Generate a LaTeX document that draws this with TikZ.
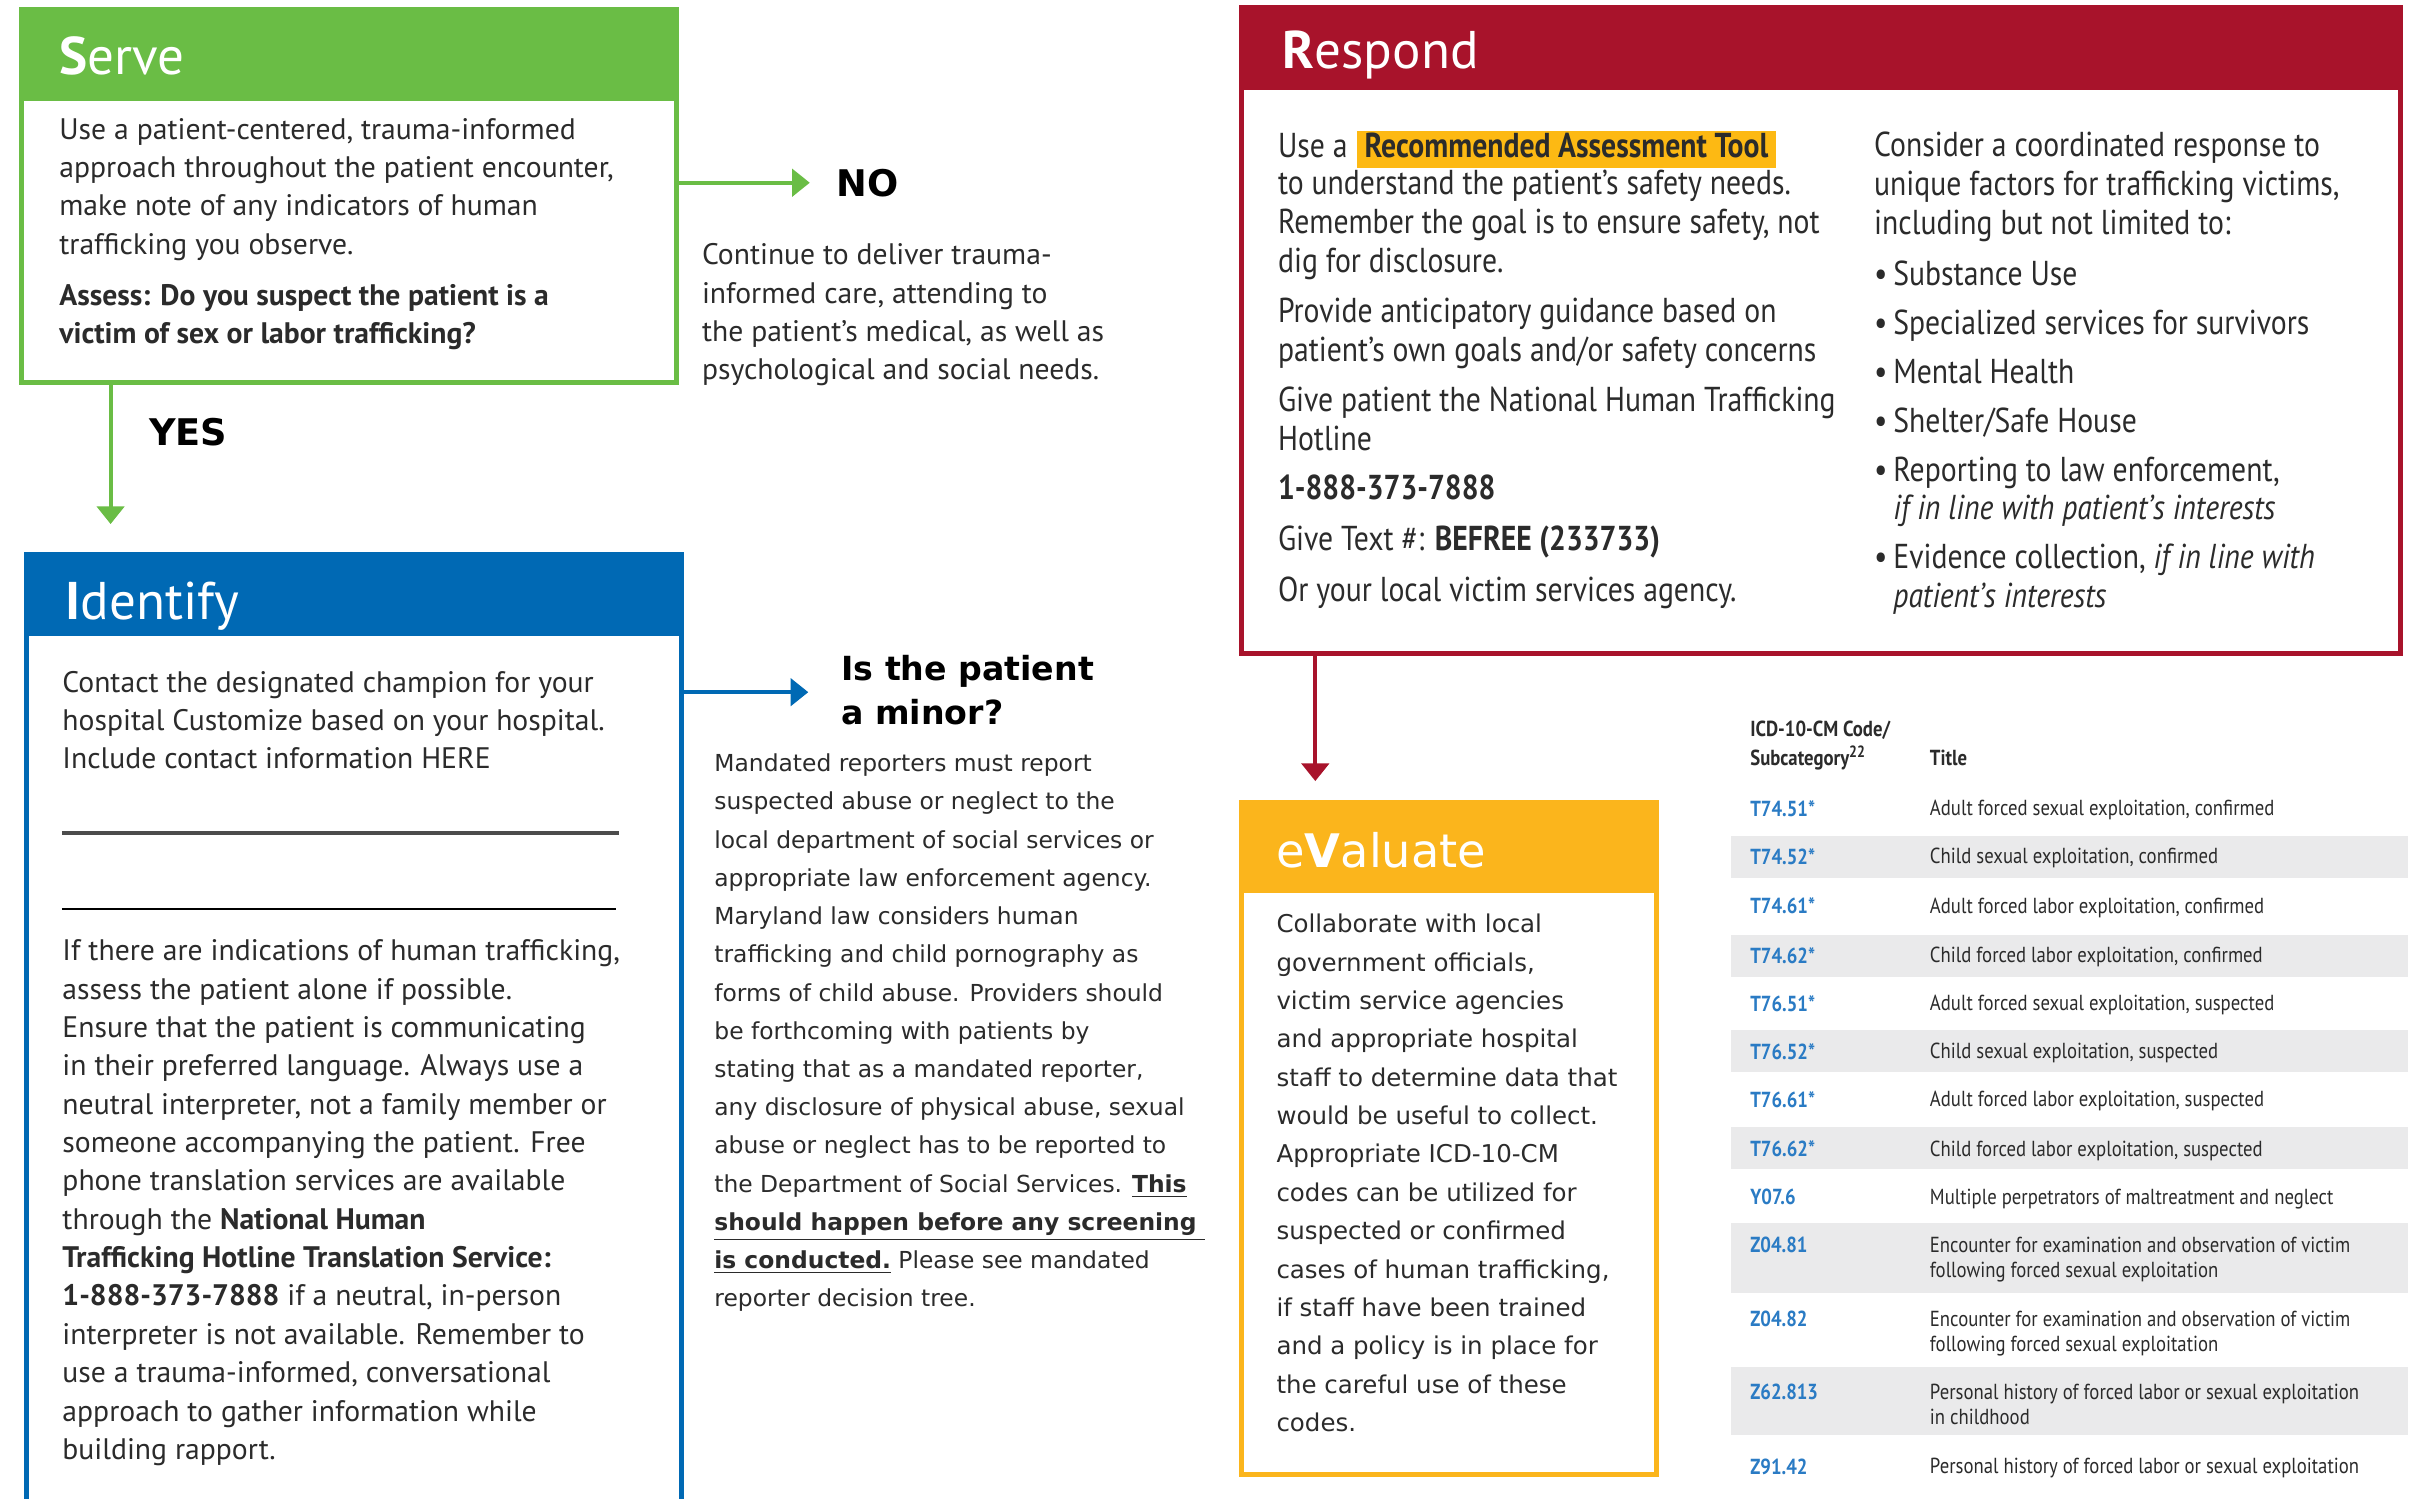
\documentclass[tikz,border=0pt]{standalone}
\usepackage{fontspec}
\setmainfont{PT Sans}
\newfontfamily\verdfont{DejaVu Sans}
\newfontfamily\narrowfont[FakeStretch=0.86]{PT Sans}
\usepackage{xcolor}
\usetikzlibrary{positioning, fit, calc, arrows.meta}

\definecolor{servegreen}{HTML}{6ABD45}
\definecolor{identblue}{HTML}{0069B4}
\definecolor{respred}{HTML}{A8132B}
\definecolor{evalorange}{HTML}{FBB51C}
\definecolor{toolyellow}{HTML}{FDB913}
\definecolor{codeblue}{HTML}{2A7BC4}
\definecolor{rowgray}{HTML}{EAEAEB}
\definecolor{ink}{HTML}{2B2B2B}

\begin{document}
\begin{tikzpicture}[x=0.02cm, y=-0.02cm,
    box/.style={draw, line width=1.8pt, inner sep=0pt},
    band/.style={inner sep=0pt, outer sep=0pt},
    title/.style={anchor=base west, inner sep=0pt, text=white, font=\fontsize{19.5}{22}\selectfont},
    txt/.style={anchor=north west, inner sep=0pt, align=left, text=ink, font=\fontsize{10.9}{14.1}\selectfont},
    wide/.style={anchor=north west, inner sep=0pt, align=left, text=ink, font=\verdfont\fontsize{8.6}{14.05}\selectfont},
    resp/.style={anchor=north west, inner sep=0pt, align=left, text=ink, font=\narrowfont\fontsize{12.7}{14.3}\selectfont},
    answer/.style={anchor=west, inner sep=0pt, text=black, font=\verdfont\bfseries\fontsize{13.5}{16}\selectfont},
    flow/.style={line width=1.5pt, -{Triangle[length=6.5pt, width=10pt]}},
    code/.style={anchor=north west, inner sep=0pt, text=codeblue, font=\narrowfont\bfseries\fontsize{8}{9.1}\selectfont},
    codename/.style={anchor=north west, inner sep=0pt, align=left, text=ink, font=\narrowfont\fontsize{8}{9.1}\selectfont},
  ]
  \clip (0,0) rectangle (1568,968);
  \fill[white] (0,0) rectangle (1568,968);

  % Serve
  \node[box, draw=servegreen, fit={(14,6) (437,247)}] (serve) {};
  \node[band, fill=servegreen, fit={(14,6) (437,65)}] (serve-hd) {};
  \node[title] (serve-title) at (38,48) {\textbf{S}erve};
  \node[txt] (serve-text) at (38,76) {Use a patient-centered, trauma-informed\\
    approach throughout the patient encounter,\\
    make note of any indicators of human\\
    trafficking you observe.};
  \node[txt, font=\bfseries\fontsize{10.9}{14.1}\selectfont] (serve-ask) at (38,183)
    {Assess: Do you suspect the patient is a\\victim of sex or labor trafficking?};

  % NO branch
  \node[answer] (no) at (540,118) {NO};
  \node[txt] (no-text) at (453,157) {Continue to deliver trauma-\\
    informed care, attending to\\
    the patient’s medical, as well as\\
    psychological and social needs.};
  \draw[flow, servegreen] (serve.east |- no.west) -- ([xshift=-9.7pt]no.west);

  % Identify
  \node[box, draw=identblue, fit={(17,358) (440,1010)}] (identify) {};
  \node[band, fill=identblue, fit={(17,358) (440,411)}] (identify-hd) {};
  \node[title] (identify-title) at (42,400) {\textbf{I}dentify};
  \node[txt] (identify-contact) at (40,433) {Contact the designated champion for your\\
    hospital Customize based on your hospital.\\
    Include contact information HERE};
  \draw[gray!60!black, line width=1.3pt] (40,538) -- (400,538);
  \draw[black, line width=0.8pt] (40,587) -- (398,587);
  \node[txt] (identify-text) at (40,606.5) {If there are indications of human trafficking,\\
    assess the patient alone if possible.\\
    Ensure that the patient is communicating\\
    in their preferred language. Always use a\\
    neutral interpreter, not a family member or\\
    someone accompanying the patient. Free\\
    phone translation services are available\\
    through the \textbf{National Human}\\
    \textbf{Trafficking Hotline Translation Service:}\\
    \textbf{1-888-373-7888} if a neutral, in-person\\
    interpreter is not available. Remember to\\
    use a trauma-informed, conversational\\
    approach to gather information while\\
    building rapport.};

  % YES branch
  \node[answer] (yes) at (96,279) {YES};
  \draw[flow, servegreen] ($(serve.south west)+(59,0)$) -- ($(identify.north west)+(56,-18)$);

  % minor?
  \node[anchor=north west, inner sep=0pt, align=left, font=\verdfont\bfseries\fontsize{12.2}{15.9}\selectfont]
    (minor) at (543,423) {Is the patient\\a minor?};
  \draw[flow, identblue] (identify.east |- {$(minor.north west)+(0,24)$}) -- ($(minor.north west)+(-21,24)$);
  \node[wide] (minor-text) at (461,486.5) {Mandated reporters must report\\
    suspected abuse or neglect to the\\
    local department of social services or\\
    appropriate law enforcement agency.\\
    Maryland law considers human\\
    trafficking and child pornography as\\
    forms of child abuse. Providers should\\
    be forthcoming with patients by\\
    stating that as a mandated reporter,\\
    any disclosure of physical abuse, sexual\\
    abuse or neglect has to be reported to\\
    the Department of Social Services. \underline{\textbf{This}}\\
    \underline{\textbf{should happen before any screening\ }}\\
    \underline{\textbf{is conducted.}} Please see mandated\\
    reporter decision tree.};

  % Respond
  \node[box, draw=respred, fit={(802,5) (1550,422)}] (respond) {};
  \node[band, fill=respred, fit={(802,5) (1550,58)}] (respond-hd) {};
  \node[title] (respond-title) at (828,44) {\textbf{R}espond};
  \node[resp, anchor=base west] (use-a) at (825,101.5) {Use a};
  \node[resp, anchor=base west, fill=toolyellow, inner xsep=3pt, text height=9.7pt, text depth=4pt]
    (tool) at ($(use-a.base east)+(5,0)$) {\textbf{Recommended Assessment Tool}};
  \node[resp] (respond-left) at (825,109.5) {to understand the patient’s safety needs.\\
    Remember the goal is to ensure safety, not\\
    dig for disclosure.\\[4.2pt]
    Provide anticipatory guidance based on\\
    patient’s own goals and/or safety concerns\\[4.2pt]
    Give patient the National Human Trafficking\\
    Hotline\\[3.4pt]
    \textbf{1-888-373-7888}\\[4.8pt]
    Give Text \#: \textbf{BEFREE (233733)}\\[4.2pt]
    Or your local victim services agency.};
  \node[resp] (respond-right) at (1210,85) {Consider a coordinated response to\\
    unique factors for trafficking victims,\\
    including but not limited to:\\[4.3pt]
    •\,Substance Use\\[3.7pt]
    •\,Specialized services for survivors\\[3.7pt]
    •\,Mental Health\\[3.7pt]
    •\,Shelter/Safe House\\[3.7pt]
    •\,Reporting to law enforcement,\\
    \phantom{•}\,\textit{if in line with patient’s interests}\\[3.7pt]
    •\,Evidence collection, \textit{if in line with}\\
    \phantom{•}\,\textit{patient’s interests}};

  % eValuate
  \node[box, draw=evalorange, fit={(802,518) (1070,952)}] (evaluate) {};
  \node[band, fill=evalorange, fit={(802,518) (1070,577)}] (evaluate-hd) {};
  \node[title, font=\verdfont\fontsize{17}{20}\selectfont] (evaluate-title) at (824,560) {e\textbf{V}aluate};
  \node[wide, font=\verdfont\fontsize{9}{14.1}\selectfont] (evaluate-text) at (824,590) {Collaborate with local\\
    government officials,\\
    victim service agencies\\
    and appropriate hospital\\
    staff to determine data that\\
    would be useful to collect.\\
    Appropriate ICD-10-CM\\
    codes can be utilized for\\
    suspected or confirmed\\
    cases of human trafficking,\\
    if staff have been trained\\
    and a policy is in place for\\
    the careful use of these\\
    codes.};
  \draw[flow, respred] ($(respond.south west)+(49,0)$) -- ($(evaluate.north west)+(49,-12)$);

  % ICD-10-CM codes
  \foreach \ya/\yb in {540/567, 604/631, 665/692, 728/755, 790/835, 883/927}
    \fill[rowgray] (1118,\ya) rectangle (1555,\yb);
  \node[codename, font=\narrowfont\bfseries\fontsize{8}{10.8}\selectfont] (head-code) at (1130,465)
    {ICD-10-CM Code/\\Subcategory\textsuperscript{22}};
  \node[codename, font=\narrowfont\bfseries\fontsize{8}{10.8}\selectfont] (head-title) at (1246,484) {Title};
  \foreach \code/\name/\yc [count=\i] in {
      T74.51*/{Adult forced sexual exploitation, confirmed}/522,
      T74.52*/{Child sexual exploitation, confirmed}/553,
      T74.61*/{Adult forced labor exploitation, confirmed}/585,
      T74.62*/{Child forced labor exploitation, confirmed}/617,
      T76.51*/{Adult forced sexual exploitation, suspected}/648,
      T76.52*/{Child sexual exploitation, suspected}/679,
      T76.61*/{Adult forced labor exploitation, suspected}/710,
      T76.62*/{Child forced labor exploitation, suspected}/742,
      Y07.6/{Multiple perpetrators of maltreatment and neglect}/773,
      Z04.81/{Encounter for examination and observation of victim\\following forced sexual exploitation}/804,
      Z04.82/{Encounter for examination and observation of victim\\following forced sexual exploitation}/852,
      Z62.813/{Personal history of forced labor or sexual exploitation\\in childhood}/899,
      Z91.42/{Personal history of forced labor or sexual exploitation}/947} {
    \node[code] (code-\i) at (1130,\yc-5.5) {\code};
    \node[codename] (name-\i) at (1246,\yc-5.5) {\name};
  }
\end{tikzpicture}
\end{document}
